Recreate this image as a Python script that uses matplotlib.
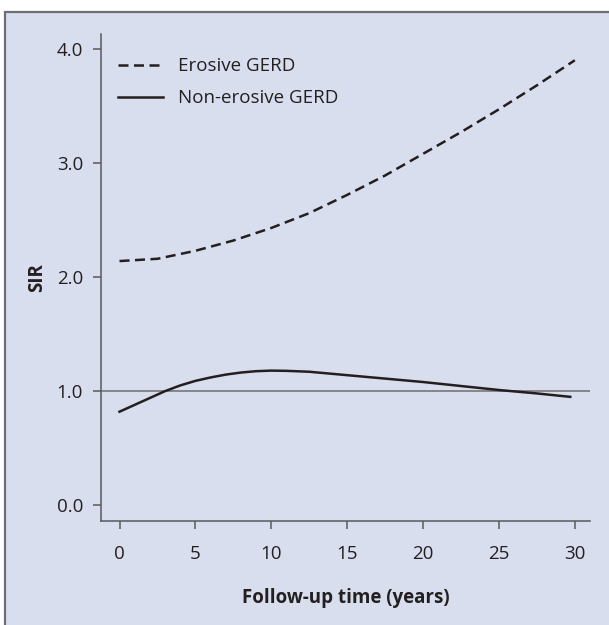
import matplotlib
matplotlib.use('Agg')
import matplotlib.pyplot as plt
from matplotlib.patches import Rectangle

plt.rcParams['font.family'] = ['Open Sans', 'DejaVu Sans']

# data
years = [0, 2.5, 5, 7.5, 10, 12.5, 15, 17.5, 20, 22.5, 25, 27.5, 30]
erosive = [2.14, 2.16, 2.23, 2.32, 2.43, 2.56, 2.72, 2.89, 3.08, 3.27, 3.47, 3.68, 3.90]
years_ne = [0, 1, 2, 3, 4, 5, 6, 7, 8, 9, 10, 11, 12.5, 15, 17.5, 20, 22.5, 25, 27.5, 29.7]
non_erosive = [0.82, 0.88, 0.94, 1.00, 1.05, 1.09, 1.12, 1.145, 1.163, 1.175, 1.18, 1.178,
               1.17, 1.14, 1.11, 1.08, 1.045, 1.01, 0.98, 0.95]
xticks = [0, 5, 10, 15, 20, 25, 30]
yticks = [0.0, 1.0, 2.0, 3.0, 4.0]

bg = '#d9deef'
ink = '#231f20'
fs = 13.5

fig = plt.figure(figsize=(6.09, 6.25), dpi=100)
fig.patch.set_facecolor('white')
# outer panel box
fig.patches.append(Rectangle((5 / 609, -0.02), 1.05, (625 - 12) / 625 + 0.02,
                             transform=fig.transFigure, facecolor=bg,
                             edgecolor='#6d6e71', linewidth=1.6, zorder=-5))

ax = fig.add_axes([101 / 609, 1 - 521 / 625, (590 - 101) / 609, (521 - 34) / 625])
ax.set_facecolor('none')

ax.plot(years, erosive, color=ink, lw=1.8, dashes=(4, 2.2), label='Erosive GERD')
ax.plot(years_ne, non_erosive, color=ink, lw=1.8, label='Non-erosive GERD')
ax.axhline(1.0, color='#6d6e71', lw=1.1, zorder=1)

ax.set_xlim(-1.22, 31.0)
ax.set_ylim(-0.138, 4.13)
ax.set_xticks(xticks)
ax.set_yticks(yticks)
ax.set_yticklabels([f'{v:.1f}' for v in yticks])

for s in ['top', 'right']:
    ax.spines[s].set_visible(False)
for s in ['left', 'bottom']:
    ax.spines[s].set_color('#58595b')
    ax.spines[s].set_linewidth(1.1)

ax.tick_params(axis='both', colors='#58595b', labelcolor=ink, labelsize=fs, width=1.1, length=6)
ax.tick_params(axis='x', pad=11)
ax.tick_params(axis='y', pad=7)

ax.set_xlabel('Follow-up time (years)', fontsize=fs, fontweight='bold', color=ink, labelpad=18)
ax.set_ylabel('SIR', fontsize=fs, fontweight='bold', color=ink, labelpad=7)

ax.legend(loc='upper left', bbox_to_anchor=(0.0, 0.987), frameon=False, fontsize=fs,
          handlelength=2.4, handletextpad=0.8, labelspacing=0.75, labelcolor=ink)

fig.savefig('out.png', dpi=100)
